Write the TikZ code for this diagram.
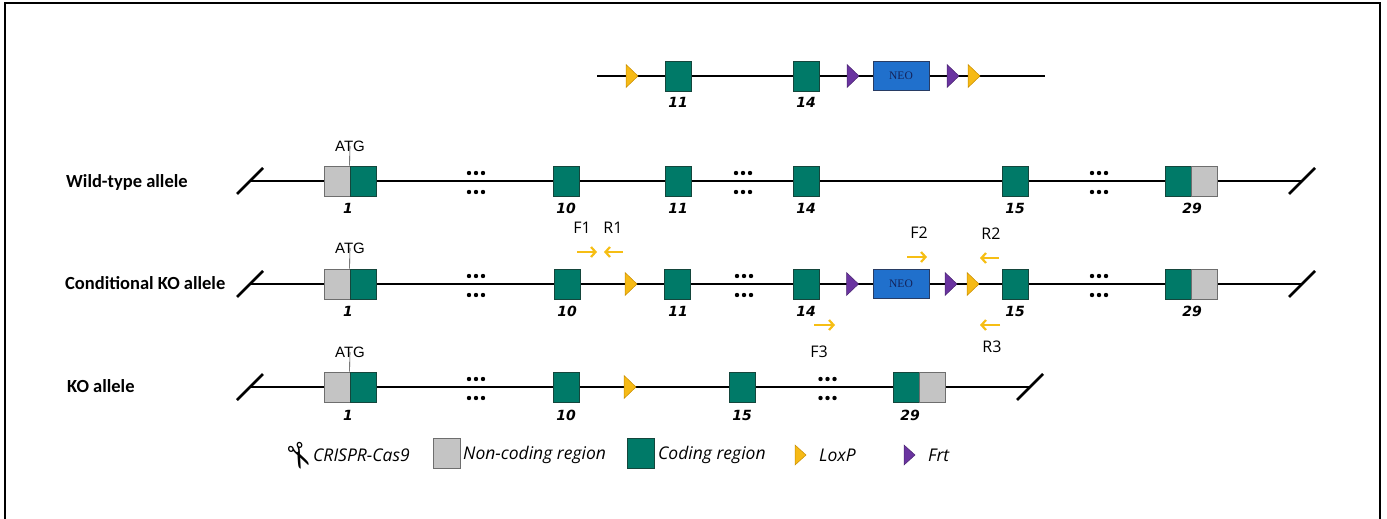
\documentclass[tikz,border=0pt]{standalone}
\usepackage{fontspec}
\setmainfont{Liberation Sans}
\newfontfamily\lblfont{Carlito}
\newfontfamily\exfont{DejaVu Sans}
\newfontfamily\prfont{Open Sans}
\newfontfamily\legfont{Open Sans}
\newfontfamily\neofont{Liberation Serif}
\newfontfamily\symfont{DejaVu Sans}
\usetikzlibrary{arrows.meta}
\definecolor{exgreen}{RGB}{0,122,104}
\definecolor{exborder}{RGB}{20,70,60}
\definecolor{ncgray}{RGB}{196,196,196}
\definecolor{ncborder}{RGB}{110,110,110}
\definecolor{neoblue}{RGB}{32,112,204}
\definecolor{neoborder}{RGB}{40,60,100}
\definecolor{neotext}{RGB}{20,35,90}
\definecolor{lyellow}{RGB}{246,186,22}
\definecolor{lborder}{RGB}{200,140,0}
\definecolor{fpurple}{RGB}{106,52,160}
\definecolor{pyellow}{RGB}{246,190,20}
\newcommand\genedots[2]{%
  \foreach \dx in {-7,0,7} {%
    \fill ({#1+\dx},{#2-9}) circle (2.2);
    \fill ({#1+\dx},{#2+10}) circle (2.2);
  }}
\tikzset{
  exon/.style={draw=exborder, fill=exgreen, minimum width=26pt, minimum height=30pt, inner sep=0pt, line width=0.8pt},
  nonc/.style={exon, fill=ncgray, draw=ncborder},
  neobox/.style={draw=neoborder, fill=neoblue, minimum width=56pt, minimum height=29pt, inner sep=0pt, line width=0.8pt, text=neotext, font=\neofont\fontsize{11.5}{11.5}\selectfont},
  exlab/.style={inner sep=0pt, font=\exfont\bfseries\itshape\fontsize{14}{14}\selectfont},
  rowlab/.style={inner sep=0pt, anchor=west, font=\lblfont\bfseries\fontsize{18.5}{18.5}\selectfont},
  atg/.style={inner sep=0pt, font=\fontsize{15}{15}\selectfont},
  atgline/.style={draw=black!80, line width=0.6pt},
  prlab/.style={inner sep=0pt, font=\prfont\fontsize{16}{16}\selectfont},
  leglab/.style={inner sep=0pt, anchor=west, font=\legfont\itshape\fontsize{17.5}{17.5}\selectfont},
  backbone/.style={line width=2.8pt, black},
  primer/.style={draw=pyellow, line width=2.2pt, -{Straight Barb[length=4.5pt,width=10pt,line width=2.2pt]}},
  loxp/.pic={\filldraw[fill=lyellow, draw=lborder, line width=0.5pt] (-6,-11.5) -- (6,0) -- (-6,11.5) -- cycle;},
  frt/.pic={\filldraw[fill=fpurple, draw=fpurple!70!black, line width=0.5pt] (-6,-11.5) -- (6,0) -- (-6,11.5) -- cycle;},
  loxpsmall/.pic={\filldraw[fill=lyellow, draw=lborder, line width=0.5pt] (-5.5,-10) -- (5.5,0) -- (-5.5,10) -- cycle;},
  frtsmall/.pic={\filldraw[fill=fpurple, draw=fpurple!70!black, line width=0.5pt] (-5.5,-10) -- (5.5,0) -- (-5.5,10) -- cycle;}
}
\begin{document}
\begin{tikzpicture}[x=1pt,y=-1pt]
\path[use as bounding box] (0,0) rectangle (1387,519);
% frame
\draw[line width=2pt, black] (4.5,522) -- (4.5,3) -- (1380,3) -- (1380,522);

% ---------------- targeting construct ----------------
\coordinate (tL) at (597,76);
\coordinate (tR) at (1045,76);
\draw[backbone] (tL) -- (tR);
\pic (tlox1) at (632,76) {loxp};
\node[exon] (t11) at (678,76) {};
\node[exon] (t14) at (806,76) {};
\pic (tfrt1) at (853,76) {frt};
\node[neobox] (tneo) at (901,76) {NEO};
\pic (tfrt2) at (953,76) {frt};
\pic (tlox2) at (974,76) {loxp};
\node[exlab] (lt11) at (678,102) {11};
\node[exlab] (lt14) at (806,102) {14};

% ---------------- wild-type allele ----------------
\node[rowlab] (wtlab) at (66,182) {Wild-type allele};
\coordinate (wL) at (250,181);
\coordinate (wR) at (1302,181);
\draw[backbone] (wL) -- (wR);
\draw[backbone] (wL) ++(-13,13) -- ++(26,-26);
\draw[backbone] (wR) ++(-13,13) -- ++(26,-26);
\node[nonc] (w1n) at (337,181) {};
\node[exon] (w1c) at (363,181) {};
\node[atg] (watg) at (350,146) {ATG};
\draw[atgline] (watg.center) -- (w1c.north west);
\genedots{476}{182}
\node[exon] (w10) at (566,181) {};
\node[exon] (w11) at (678,181) {};
\genedots{743}{182}
\node[exon] (w14) at (806,181) {};
\node[exon] (w15) at (1015,181) {};
\genedots{1099}{182}
\node[exon] (w29c) at (1178.5,181) {};
\node[nonc] (w29n) at (1204.5,181) {};
\node[exlab] (lw1) at (348,208) {1};
\node[exlab] (lw10) at (566,208) {10};
\node[exlab] (lw11) at (678,208) {11};
\node[exlab] (lw14) at (806,208) {14};
\node[exlab] (lw15) at (1015,208) {15};
\node[exlab] (lw29) at (1192,208) {29};

% ---------------- conditional KO allele ----------------
\node[rowlab] (cklab) at (65,283) {Conditional KO allele};
\coordinate (cL) at (250,284);
\coordinate (cR) at (1302,284);
\draw[backbone] (cL) -- (cR);
\draw[backbone] (cL) ++(-13,13) -- ++(26,-26);
\draw[backbone] (cR) ++(-13,13) -- ++(26,-26);
\node[nonc] (c1n) at (337,284) {};
\node[exon] (c1c) at (363,284) {};
\node[atg] (catg) at (350,248) {ATG};
\draw[atgline] (catg.center) -- (c1c.north west);
\genedots{476}{285}
\node[exon] (c10) at (567,284) {};
\pic (clox1) at (631,284) {loxp};
\node[exon] (c11) at (677.5,284) {};
\genedots{744}{285}
\node[exon] (c14) at (806,284) {};
\pic (cfrt1) at (852.5,284) {frt};
\node[neobox] (cneo) at (901,284) {NEO};
\pic (cfrt2) at (951,284) {frt};
\pic (clox2) at (973,284) {loxp};
\node[exon] (c15) at (1015.5,284) {};
\genedots{1099}{285}
\node[exon] (c29c) at (1178.5,284) {};
\node[nonc] (c29n) at (1204.5,284) {};
\node[exlab] (lc1) at (348,311) {1};
\node[exlab] (lc10) at (567,311) {10};
\node[exlab] (lc11) at (678,311) {11};
\node[exlab] (lc14) at (806,311) {14};
\node[exlab] (lc15) at (1015,311) {15};
\node[exlab] (lc29) at (1192,311) {29};
% primers
\node[prlab] (pF1) at (582,228) {F1};
\node[prlab] (pR1) at (613,228) {R1};
\node[prlab] (pF2) at (919,233) {F2};
\node[prlab] (pR2) at (991,234) {R2};
\node[prlab] (pF3) at (819,352) {F3};
\node[prlab] (pR3) at (992,347) {R3};
\coordinate (aF1s) at (577,252); \coordinate (aF1e) at (597,252);
\coordinate (aR1s) at (623,252); \coordinate (aR1e) at (604,252);
\coordinate (aF2s) at (907,257); \coordinate (aF2e) at (927,257);
\coordinate (aR2s) at (999,258); \coordinate (aR2e) at (980,258);
\coordinate (aF3s) at (814,325); \coordinate (aF3e) at (835,325);
\coordinate (aR3s) at (1000,325); \coordinate (aR3e) at (980,325);
\draw[primer] (aF1s) -- (aF1e);
\draw[primer] (aR1s) -- (aR1e);
\draw[primer] (aF2s) -- (aF2e);
\draw[primer] (aR2s) -- (aR2e);
\draw[primer] (aF3s) -- (aF3e);
\draw[primer] (aR3s) -- (aR3e);

% ---------------- KO allele ----------------
\node[rowlab] (kolab) at (67,386) {KO allele};
\coordinate (kL) at (250,387);
\coordinate (kR) at (1030,387);
\draw[backbone] (kL) -- (kR);
\draw[backbone] (kL) ++(-13,13) -- ++(26,-26);
\draw[backbone] (kR) ++(-13,13) -- ++(26,-26);
\node[nonc] (k1n) at (337,387) {};
\node[exon] (k1c) at (363,387) {};
\node[atg] (katg) at (350,352) {ATG};
\draw[atgline] (katg.center) -- (k1c.north west);
\genedots{476}{388}
\node[exon] (k10) at (566,387) {};
\pic (klox) at (630,387) {loxp};
\node[exon] (k15) at (742,387) {};
\genedots{827.5}{388}
\node[exon] (k29c) at (906,387) {};
\node[nonc] (k29n) at (932,387) {};
\node[exlab] (lk1) at (348,415) {1};
\node[exlab] (lk10) at (566,415) {10};
\node[exlab] (lk15) at (742,415) {15};
\node[exlab] (lk29) at (910,415) {29};

% ---------------- legend ----------------
\node[inner sep=0pt, rotate=-65, font=\symfont\fontsize{34}{34}\selectfont] (scis) at (298,457) {✂};
\node[leglab] (lgcas) at (313,455) {CRISPR-Cas9};
\node[nonc, minimum width=27pt] (lgnc) at (446.5,453) {};
\node[leglab] (lgnct) at (463,455) {Non-coding region};
\node[exon, minimum width=27pt] (lgc) at (640.5,453) {};
\node[leglab] (lgct) at (658,455) {Coding region};
\pic (lglox) at (800.5,455) {loxpsmall};
\node[leglab] (lgloxt) at (819,455) {LoxP};
\pic (lgfrt) at (909.5,455) {frtsmall};
\node[leglab] (lgfrtt) at (928,455) {Frt};
\end{tikzpicture}
\end{document}
